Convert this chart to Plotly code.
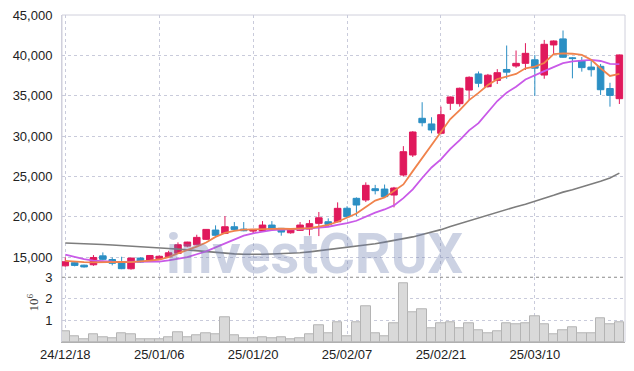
import plotly.graph_objects as go

dates = ["24/12/18","24/12/19","24/12/20","24/12/23","24/12/24","24/12/26","24/12/27","24/12/30",
         "25/01/02","25/01/03","25/01/06","25/01/07","25/01/08","25/01/09","25/01/10","25/01/13",
         "25/01/14","25/01/15","25/01/16","25/01/17","25/01/20","25/01/21","25/01/22","25/01/23",
         "25/01/24","25/01/31","25/02/03","25/02/04","25/02/05","25/02/06","25/02/07","25/02/10",
         "25/02/11","25/02/12","25/02/13","25/02/14","25/02/17","25/02/18","25/02/19","25/02/20",
         "25/02/21","25/02/24","25/02/25","25/02/26","25/02/27","25/02/28","25/03/04","25/03/05",
         "25/03/06","25/03/07","25/03/10","25/03/11","25/03/12","25/03/13","25/03/14","25/03/17",
         "25/03/18","25/03/19","25/03/20","25/03/21"]

open_ = [13920,14300,14000,14050,15150,14700,14380,13550,14880,14500,
         14800,15050,15460,16360,16530,17200,18350,17940,18760,18470,
         18220,18220,18970,18560,18010,18310,18470,19180,19380,19380,
         21050,22280,22070,23470,23430,22690,25170,27650,32200,31500,
         30340,34060,34010,35700,37700,36120,36900,38250,38680,39010,
         39450,37560,41290,42040,39700,39300,38550,38640,35890,34630]
high = [14960,14380,14050,15250,15580,14950,15040,14900,14950,15250,
        15200,15780,16820,16900,17770,18470,18930,20080,19340,19340,
        18450,19460,19460,18600,18600,19340,19600,20590,19800,21780,
        21300,22400,24260,23950,23990,23700,28750,30600,34190,32330,
        33640,34900,36000,37400,38000,37700,38290,41220,40600,41510,
        40050,41910,41850,43080,39800,39800,39450,38930,36600,40100]
low = [13800,13850,13700,13920,14600,13970,13500,13450,14300,14450,
       14750,15000,15400,16230,16450,17110,17560,17850,18260,18200,
       17900,18150,18400,17650,17900,18250,17680,17600,18720,19300,
       19900,20080,21820,22770,22400,21160,24980,27400,31200,30340,
       30200,33230,33640,34470,36050,36000,36450,37100,38450,38190,
       34970,37100,40050,39700,37150,37980,37370,35090,33640,33970]
close = [14420,13970,13780,14950,14720,14230,13560,14880,14380,15200,
         15100,15530,16530,16860,17440,18430,17700,18760,18430,18260,
         18430,18970,18480,18100,18470,18970,19140,19870,19050,21040,
         20000,21450,23890,23230,22490,23560,28060,30500,31650,30750,
         32650,34840,35920,37280,36540,37540,37850,37920,39010,40250,
         38410,41370,41780,39760,39600,38480,38220,35740,35030,40050]

ma_short = [14540,14420,14380,14350,14380,14400,14400,14380,14450,14550,
            14700,15000,15450,15850,16300,16800,17500,18000,18250,18400,
            18430,18500,18550,18520,18480,18520,18600,18780,18980,19380,
            19900,20400,21200,22000,22400,23200,24000,25650,27250,28850,
            30400,32100,33200,34450,35350,36330,37050,37370,37700,38400,
            38600,39050,40150,40250,40200,40050,39450,38400,37450,37700]
ma_mid = [15300,15000,14750,14550,14450,14420,14400,14400,14400,14420,
          14450,14600,14800,15000,15350,15700,16200,16700,17200,17650,
          17950,18150,18330,18400,18420,18480,18560,18620,18760,19000,
          19200,19500,20000,20500,20900,21400,22300,23400,24800,26100,
          27100,28400,29500,30700,31600,33000,34340,35380,36120,37000,
          37480,38050,38550,39030,39250,39350,39440,39300,38950,38900]
ma_long = [16750,16720,16680,16620,16560,16500,16440,16370,16300,16220,
           16140,16060,15980,15880,15760,15620,15520,15450,15400,15360,
           15330,15350,15380,15420,15470,15530,15650,15780,15920,16050,
           16200,16330,16480,16650,16850,17050,17250,17500,17800,18100,
           18400,18800,19150,19550,19900,20250,20600,20950,21250,21550,
           21950,22300,22650,23050,23350,23700,24000,24400,24800,25400]

volume_m = [0.50,0.26,0.11,0.37,0.23,0.18,0.42,0.34,0.14,0.14,
            0.14,0.23,0.46,0.23,0.29,0.42,0.34,1.16,0.29,0.18,
            0.18,0.23,0.17,0.23,0.14,0.18,0.34,0.79,0.42,0.93,
            0.28,0.92,1.66,0.42,0.28,0.88,2.71,1.37,1.53,0.65,
            0.88,0.93,0.65,0.88,0.54,0.42,0.49,0.88,0.83,0.88,
            1.21,0.80,0.38,0.54,0.69,0.42,0.42,1.11,0.80,0.93]
volume = [v * 1e6 for v in volume_m]

tick_dates = ["24/12/18", "25/01/06", "25/01/20", "25/02/07", "25/02/21", "25/03/10"]
price_ticks = [15000, 20000, 25000, 30000, 35000, 40000, 45000]
vol_ticks = [1e6, 2e6, 3e6]
vol_ticktext = ["1", "2", "3"]

UP = "#e0195c"
DOWN = "#2b8fc4"
GRID = "#c9cbdb"
FONT = "Liberation Sans, Arial, sans-serif"
VOL_DOMAIN = 0.198

fig = go.Figure()
fig.add_trace(go.Bar(x=dates, y=volume, yaxis="y2", marker=dict(color="#d9d9d9", line=dict(color="#b4b4b4", width=1)),
                     showlegend=False))
fig.add_trace(go.Scatter(x=dates, y=ma_long, mode="lines", line=dict(color="#7d7d7d", width=1.6), showlegend=False))
fig.add_trace(go.Scatter(x=dates, y=ma_mid, mode="lines", line=dict(color="#c95ae8", width=1.8), showlegend=False))
fig.add_trace(go.Scatter(x=dates, y=ma_short, mode="lines", line=dict(color="#f0834c", width=1.8), showlegend=False))
fig.add_trace(go.Candlestick(x=dates, open=open_, high=high, low=low, close=close,
                             increasing=dict(line=dict(color=UP, width=1), fillcolor=UP),
                             decreasing=dict(line=dict(color=DOWN, width=1), fillcolor=DOWN),
                             showlegend=False))

# page body has an 8px default margin, so the figure is sized to fit inside it
fig.update_layout(
    width=626, height=363,
    margin=dict(l=54, r=9, t=7, b=29, autoexpand=False),
    paper_bgcolor="white", plot_bgcolor="white",
    bargap=0, boxgap=0.3, boxgroupgap=0,
    showlegend=False,
    xaxis=dict(type="category", range=[-0.35, 59.6], anchor="y2", automargin=False,
               tickmode="array", tickvals=tick_dates, ticktext=tick_dates,
               showgrid=True, gridcolor=GRID, griddash="dot", gridwidth=1,
               showline=True, linecolor="#b0b0b0", ticks="", rangeslider=dict(visible=False),
               ticklabeloverflow="allow",
               tickfont=dict(family=FONT, size=13, color="#222")),
    yaxis=dict(domain=[VOL_DOMAIN, 1], range=[12500, 45000], tickvals=price_ticks, tickformat=",",
               automargin=False, ticklabeloverflow="allow",
               showgrid=True, gridcolor=GRID, griddash="dot", zeroline=False,
               showline=True, linecolor="#d0d0dc", ticks="", ticklabelstandoff=6,
               tickfont=dict(family=FONT, size=13, color="#222")),
    yaxis2=dict(domain=[0, VOL_DOMAIN], range=[0, 3e6], tickvals=vol_ticks, ticktext=vol_ticktext,
                automargin=False, ticklabeloverflow="allow",
                showgrid=True, gridcolor=GRID, griddash="dot", zeroline=False,
                showline=True, linecolor="#d0d0dc", ticks="", ticklabelstandoff=6,
                tickfont=dict(family=FONT, size=13, color="#222")),
    shapes=[
        dict(type="rect", xref="paper", yref="paper", x0=0, x1=1, y0=0, y1=1,
             line=dict(color="#d0d0dc", width=1), layer="below"),
        dict(type="line", xref="paper", yref="paper", x0=0, x1=1, y0=VOL_DOMAIN, y1=VOL_DOMAIN,
             line=dict(color="#8a8a8a", width=1, dash="dot")),
    ],
    annotations=[
        dict(text="<b>investCRUX</b>", xref="paper", yref="paper", x=0.449, y=0.27,
             xanchor="center", yanchor="middle", showarrow=False,
             font=dict(family="Roboto, sans-serif", size=56,
                       color="rgba(110,125,175,0.35)")),
        dict(text="10<sup>6</sup>", xref="paper", yref="paper", x=-0.052, y=0.12,
             xanchor="center", yanchor="middle", showarrow=False, textangle=-90,
             font=dict(family="Liberation Serif, serif", size=13, color="#333")),
    ],
)

fig.write_html("out.html")
